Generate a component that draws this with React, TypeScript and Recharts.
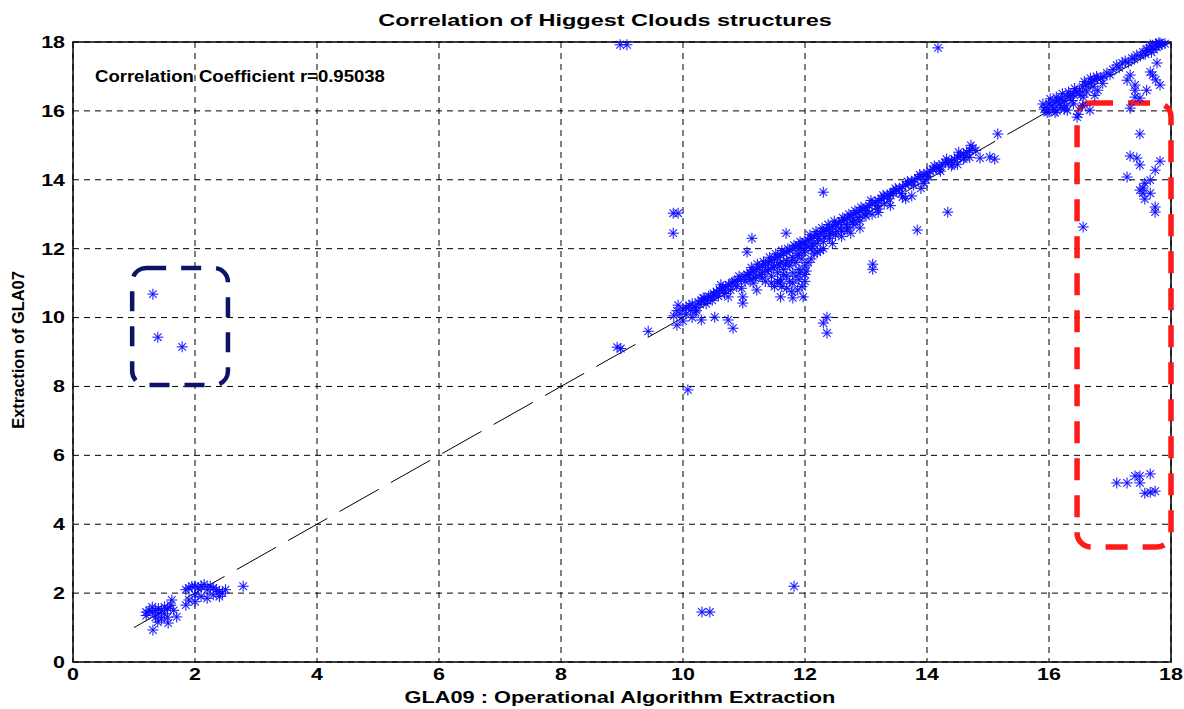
import {
  ScatterChart,
  Scatter,
  XAxis,
  YAxis,
  CartesianGrid,
  ReferenceLine,
  ReferenceArea,
} from "recharts";

const ticks = [0, 2, 4, 6, 8, 10, 12, 14, 16, 18];

// points, grouped by region [GLA09, GLA07]
const lowClusterA = [
  [1.2, 1.45], [1.25, 1.5], [1.3, 1.45], [1.35, 1.5], [1.4, 1.55], [1.45, 1.5],
  [1.5, 1.6], [1.55, 1.55], [1.3, 1.6], [1.4, 1.4], [1.2, 1.35], [1.5, 1.4],
  [1.6, 1.65], [1.65, 1.5], [1.31, 0.93], [1.56, 1.13], [1.7, 1.31], [1.62, 1.8],
  [1.39, 1.16], [1.45, 1.25], [1.35, 1.3], [1.55, 1.3],
];
const lowClusterB = [
  [1.85, 2.1], [1.9, 2.15], [1.95, 2.2], [2.0, 2.2], [2.05, 2.15], [2.1, 2.2],
  [2.15, 2.25], [2.2, 2.1], [2.25, 2.2], [2.3, 2.15], [2.35, 2.1], [2.4, 2.05],
  [2.45, 2.0], [2.5, 2.1], [1.9, 1.8], [1.85, 1.65], [2.0, 1.95], [2.1, 1.9],
  [2.2, 1.85], [2.3, 1.95], [2.4, 1.9], [2.0, 1.75], [2.79, 2.2],
];
const navyOutliers = [[1.31, 10.68], [1.39, 9.43], [1.79, 9.15]];
const bandTen = [
  [9.85, 10.05], [9.9, 10.2], [9.95, 10.1], [10.0, 10.25], [10.05, 10.3], [10.1, 10.35],
  [10.15, 10.4], [10.2, 10.3], [10.25, 10.45], [10.3, 10.5], [10.35, 10.55], [10.4, 10.5],
  [10.45, 10.6], [10.5, 10.7], [10.55, 10.75], [10.6, 10.8], [10.65, 10.85], [10.7, 10.9],
  [10.75, 10.95], [10.8, 11.0], [10.85, 11.05], [10.9, 11.1], [10.95, 11.1], [11.0, 11.2],
  [10.0, 9.9], [10.15, 10.0], [10.3, 9.93], [10.52, 10.01], [10.74, 9.93], [10.82, 9.69],
  [10.33, 10.57], [10.52, 10.65], [10.66, 10.8], [10.74, 10.6], [10.98, 10.6], [10.98, 10.42],
  [10.82, 11.03], [10.2, 10.16], [9.9, 9.78], [9.92, 10.36], [10.05, 10.1], [10.12, 10.22],
  [10.22, 10.2], [10.28, 10.38], [10.38, 10.4], [10.42, 10.62], [10.48, 10.5], [10.58, 10.62],
  [10.62, 10.95], [10.68, 10.7], [10.78, 10.8], [10.88, 10.9], [10.92, 11.2], [10.96, 10.85],
];
const bandEleven = [
  [11.05, 11.25], [11.1, 11.3], [11.15, 11.35], [11.2, 11.4], [11.25, 11.45], [11.3, 11.5],
  [11.35, 11.55], [11.4, 11.6], [11.45, 11.65], [11.5, 11.7], [11.55, 11.75], [11.6, 11.8],
  [11.65, 11.85], [11.7, 11.9], [11.75, 11.95], [11.8, 12.0], [11.85, 12.05], [11.9, 12.1],
  [11.95, 12.15], [12.0, 12.2], [11.1, 11.1], [11.2, 11.2], [11.3, 11.3], [11.4, 11.4],
  [11.5, 11.5], [11.6, 11.6], [11.7, 11.65], [11.8, 11.75], [11.9, 11.85], [12.0, 11.95],
  [11.15, 11.0], [11.3, 11.15], [11.45, 11.2], [11.55, 11.3], [11.65, 11.4], [11.75, 11.5],
  [11.85, 11.6], [11.95, 11.7], [11.5, 10.9], [11.6, 11.1], [11.7, 11.2], [11.8, 11.3],
  [11.9, 11.4], [12.0, 11.5], [11.7, 10.85], [11.8, 11.0], [11.9, 11.1], [12.0, 11.25],
  [11.95, 10.9], [11.6, 10.6], [11.8, 10.57], [11.97, 10.6], [11.59, 11.0], [11.21, 10.8],
  [11.07, 11.23], [11.05, 11.9], [11.13, 12.3], [11.69, 12.45], [11.92, 12.05],
  [11.02, 11.05], [11.12, 11.45], [11.18, 11.15], [11.22, 11.55], [11.28, 11.25], [11.32, 11.62],
  [11.38, 11.35], [11.42, 11.75], [11.48, 11.45], [11.52, 11.85], [11.58, 11.5], [11.62, 11.95],
  [11.68, 11.55], [11.72, 12.0], [11.78, 11.65], [11.82, 12.1], [11.88, 11.8], [11.92, 12.2],
  [11.98, 11.9], [11.45, 11.0], [11.55, 11.05], [11.62, 10.9], [11.75, 11.05], [11.85, 11.2],
  [11.92, 11.3], [12.02, 11.35], [11.78, 10.75], [11.88, 10.8], [12.0, 11.05], [11.65, 11.25],
  [11.35, 11.05],
];
const bandTwelve = [
  [12.05, 12.25], [12.1, 12.3], [12.15, 12.35], [12.2, 12.4], [12.25, 12.45], [12.3, 12.5],
  [12.35, 12.55], [12.4, 12.6], [12.45, 12.65], [12.5, 12.7], [12.55, 12.75], [12.6, 12.8],
  [12.65, 12.85], [12.7, 12.9], [12.75, 12.95], [12.8, 13.0], [12.85, 13.05], [12.9, 13.1],
  [12.95, 13.15], [13.0, 13.2], [12.1, 12.0], [12.2, 12.15], [12.3, 12.2], [12.4, 12.3],
  [12.5, 12.4], [12.6, 12.5], [12.7, 12.6], [12.8, 12.7], [12.9, 12.8], [12.13, 12.16],
  [12.41, 12.45], [12.69, 12.54], [12.79, 12.83], [12.2, 11.9], [12.1, 11.7], [12.05, 11.6],
  [12.3, 12.0], [12.3, 13.64], [12.36, 10.01], [12.3, 9.84], [12.36, 9.55],
  [13.11, 11.55], [13.11, 11.4], [12.02, 12.1], [12.08, 12.4], [12.12, 12.05], [12.18, 12.5],
  [12.22, 12.3], [12.28, 12.6], [12.32, 12.35], [12.38, 12.7], [12.42, 12.45], [12.48, 12.8],
  [12.52, 12.5], [12.58, 12.6], [12.62, 12.9], [12.68, 12.7], [12.72, 13.0], [12.78, 12.75],
  [12.82, 13.1], [12.88, 12.9], [12.92, 13.2], [12.98, 13.0], [12.15, 11.85], [12.25, 11.95],
  [12.45, 12.15], [12.6, 12.35], [12.75, 12.45], [12.9, 12.6],
];
const bandThirteen = [
  [13.05, 13.25], [13.1, 13.3], [13.15, 13.35], [13.2, 13.4], [13.25, 13.45], [13.3, 13.5],
  [13.35, 13.55], [13.4, 13.6], [13.45, 13.65], [13.5, 13.7], [13.55, 13.75], [13.6, 13.8],
  [13.65, 13.85], [13.7, 13.9], [13.75, 13.95], [13.8, 14.0], [13.85, 14.05], [13.9, 14.1],
  [13.95, 14.15], [14.0, 14.2], [13.0, 12.95], [13.1, 13.0], [13.2, 13.15], [13.3, 13.3],
  [13.44, 13.61], [13.75, 13.53], [13.84, 12.54], [13.6, 13.5], [13.95, 13.9],
  [13.02, 13.1], [13.08, 13.4], [13.18, 13.25], [13.28, 13.55], [13.38, 13.45], [13.48, 13.75],
  [13.58, 13.6], [13.68, 13.95], [13.78, 13.85], [13.88, 14.15], [13.98, 14.0], [13.2, 13.05],
  [13.4, 13.25], [13.65, 13.45], [13.9, 13.75],
];
const bandFourteen = [
  [14.05, 14.25], [14.1, 14.3], [14.15, 14.35], [14.2, 14.4], [14.25, 14.45], [14.3, 14.5],
  [14.35, 14.5], [14.4, 14.55], [14.45, 14.6], [14.5, 14.65], [14.55, 14.7], [14.6, 14.75],
  [14.65, 14.8], [14.7, 14.85], [14.75, 14.92], [14.2, 14.3], [14.4, 14.4], [14.6, 14.6],
  [14.34, 13.06], [14.87, 14.63], [15.03, 14.66], [15.11, 14.6], [15.16, 15.33],
  [14.02, 14.1], [14.12, 14.4], [14.22, 14.25], [14.32, 14.6], [14.42, 14.45], [14.52, 14.8],
  [14.62, 14.65], [14.72, 15.0], [14.8, 14.85], [14.5, 14.45], [14.7, 14.65],
];
const topCluster = [
  [15.95, 16.1], [16.0, 16.2], [16.05, 16.15], [16.1, 16.25], [16.15, 16.3], [16.2, 16.35],
  [16.25, 16.3], [16.3, 16.4], [16.35, 16.45], [16.4, 16.5], [16.45, 16.55], [16.5, 16.6],
  [16.55, 16.7], [16.6, 16.75], [16.65, 16.8], [16.7, 16.85], [16.75, 16.9], [16.8, 16.95],
  [16.85, 16.95], [16.9, 17.0], [17.11, 17.33], [17.2, 17.39], [17.36, 17.53], [17.44, 17.62],
  [17.54, 17.71], [17.6, 17.8], [17.66, 17.91], [17.7, 17.85], [17.75, 17.95], [17.8, 17.9],
  [17.82, 17.97], [17.77, 17.85], [17.72, 17.78], [15.9, 16.2], [16.0, 15.97], [16.13, 16.0],
  [16.3, 16.02], [16.46, 15.82], [16.48, 15.9], [16.67, 16.02], [16.2, 16.1], [16.4, 16.2],
  [16.56, 16.4], [16.8, 16.6], [17.33, 16.08], [17.33, 17.04], [17.28, 16.89], [17.41, 16.75],
  [17.41, 16.6], [17.41, 16.4], [17.49, 16.37], [17.66, 17.13], [17.7, 17.04], [17.82, 16.75],
  [17.77, 17.39], [17.6, 16.6], [17.75, 16.9], [15.92, 16.05], [16.02, 16.35], [16.08, 16.05],
  [16.12, 16.4], [16.18, 16.2], [16.22, 16.5], [16.28, 16.15], [16.32, 16.55], [16.38, 16.3],
  [16.42, 16.65], [16.52, 16.45], [16.58, 16.85], [16.62, 16.55], [16.68, 16.95], [16.72, 16.7],
  [16.78, 17.0], [16.88, 16.8], [16.95, 17.1], [17.0, 17.05], [17.05, 17.2], [17.15, 17.25],
  [17.25, 17.45], [17.3, 17.4], [17.4, 17.5], [17.5, 17.6], [17.58, 17.65], [17.62, 17.75],
  [17.68, 17.7], [17.85, 17.93], [17.8, 17.98], [17.9, 17.95], [15.97, 15.95], [16.1, 15.95],
  [16.25, 16.05], [16.55, 16.15], [16.75, 16.45],
];
const rightOutliers = [
  [17.49, 15.33], [17.33, 14.69], [17.44, 14.63], [17.49, 14.43], [17.28, 14.08], [17.82, 14.54],
  [17.74, 14.28], [17.66, 13.99], [17.57, 13.9], [17.54, 13.76], [17.49, 13.7], [17.54, 13.61],
  [17.66, 13.61], [17.57, 13.44], [17.74, 13.21], [17.74, 13.06], [16.56, 12.63],
  [17.11, 5.2], [17.28, 5.2], [17.41, 5.4], [17.49, 5.4], [17.49, 5.2], [17.66, 5.46],
  [17.57, 4.9], [17.66, 4.93], [17.74, 4.96],
];
const strayPoints = [
  [8.92, 9.14], [8.98, 9.1], [9.43, 9.6], [9.84, 13.03], [9.92, 13.03], [9.84, 12.45],
  [10.08, 7.9], [10.31, 1.45], [10.44, 1.45], [11.82, 2.2], [8.97, 17.92], [9.08, 17.92],
  [14.18, 17.83],
];

const groups = [
  lowClusterA, lowClusterB, navyOutliers, bandTen, bandEleven, bandTwelve,
  bandThirteen, bandFourteen, topCluster, rightOutliers, strayPoints,
];

const font = '"Liberation Sans", Arial, sans-serif';
const stretch = 1.3;

function Asterisk(props: any) {
  const { cx, cy } = props;
  const r = 5.5;
  const d = 3.8;
  return (
    <g stroke="#0a0aff" strokeWidth={1.1} strokeOpacity={0.9}>
      <line x1={cx - r} y1={cy} x2={cx + r} y2={cy} />
      <line x1={cx} y1={cy - r} x2={cx} y2={cy + r} />
      <line x1={cx - d} y1={cy - d} x2={cx + d} y2={cy + d} />
      <line x1={cx - d} y1={cy + d} x2={cx + d} y2={cy - d} />
    </g>
  );
}

function XTick(props: any) {
  const { x, y, payload } = props;
  return (
    <text
      transform={`translate(${x},${y}) scale(${stretch},1)`}
      textAnchor="middle"
      dy="0.75em"
      fontFamily={font}
      fontWeight={700}
      fontSize={16.5}
      fill="#000"
    >
      {payload.value}
    </text>
  );
}

function YTick(props: any) {
  const { x, y, payload } = props;
  return (
    <text
      transform={`translate(${x},${y}) scale(${stretch},1)`}
      textAnchor="end"
      dy="0.36em"
      fontFamily={font}
      fontWeight={700}
      fontSize={16.5}
      fill="#000"
    >
      {payload.value}
    </text>
  );
}

const roundedBox = (color: string, width: number, dash: string) => (p: any) => (
  <rect
    x={p.x}
    y={p.y}
    width={p.width}
    height={p.height}
    rx={14}
    ry={14}
    fill="none"
    stroke={color}
    strokeWidth={width}
    strokeDasharray={dash}
  />
);

const plainBox = (p: any) => (
  <rect x={p.x} y={p.y} width={p.width} height={p.height} fill="none" stroke="#000" strokeWidth={1.5} />
);

const textBase = { position: "absolute" as const, fontWeight: 700, whiteSpace: "nowrap" as const, lineHeight: 1 };

export default function App() {
  return (
    <div style={{ position: "absolute", left: 0, top: 0, width: 1184, height: 709, background: "#fff", fontFamily: font }}>
      <ScatterChart width={1184} height={709} margin={{ top: 42, right: 13, left: 0, bottom: 0 }}>
        <CartesianGrid stroke="#000" strokeDasharray="6 5" strokeWidth={1} />
        <XAxis
          type="number"
          dataKey="x"
          domain={[0, 18]}
          ticks={ticks}
          height={47}
          tickLine={false}
          axisLine={false}
          tickSize={0}
          tickMargin={6}
          tick={XTick}
        />
        <YAxis
          type="number"
          dataKey="y"
          domain={[0, 18]}
          ticks={ticks}
          width={73}
          tickLine={false}
          axisLine={false}
          tickSize={0}
          tickMargin={8}
          tick={YTick}
        />
        <ReferenceArea x1={0} x2={18} y1={0} y2={18} shape={plainBox} />
        {groups.map((g, i) => (
          <Scatter
            key={i}
            data={g.map(([x, y]) => ({ x, y }))}
            shape={Asterisk}
            isAnimationActive={false}
          />
        ))}
        <ReferenceLine
          segment={[{ x: 1, y: 1 }, { x: 18, y: 18 }]}
          stroke="#000"
          strokeWidth={1}
          strokeDasharray="45 14"
        />
        <ReferenceArea x1={0.97} x2={2.54} y1={8.04} y2={11.44} shape={roundedBox("#0b1466", 4.5, "20 15")} />
        <ReferenceArea x1={16.46} x2={18} y1={3.34} y2={16.23} shape={roundedBox("#ff1a1a", 5.5, "22 15")} />
      </ScatterChart>
      <div style={{ ...textBase, top: 12, left: 605, fontSize: 17, transform: "translateX(-50%) scaleX(1.38)" }}>
        Correlation of Higgest Clouds structures
      </div>
      <div style={{ ...textBase, top: 68, left: 95, fontSize: 17, transformOrigin: "0 0", transform: "scaleX(1.09)" }}>
        Correlation Coefficient r=0.95038
      </div>
      <div style={{ ...textBase, top: 689, left: 620, fontSize: 17, transform: "translateX(-50%) scaleX(1.28)" }}>
        GLA09 : Operational Algorithm Extraction
      </div>
      <div
        style={{
          ...textBase,
          top: 350,
          left: 18,
          fontSize: 16.4,
          transform: "translate(-50%, -50%) rotate(-90deg)",
        }}
      >
        Extraction of GLA07
      </div>
    </div>
  );
}
